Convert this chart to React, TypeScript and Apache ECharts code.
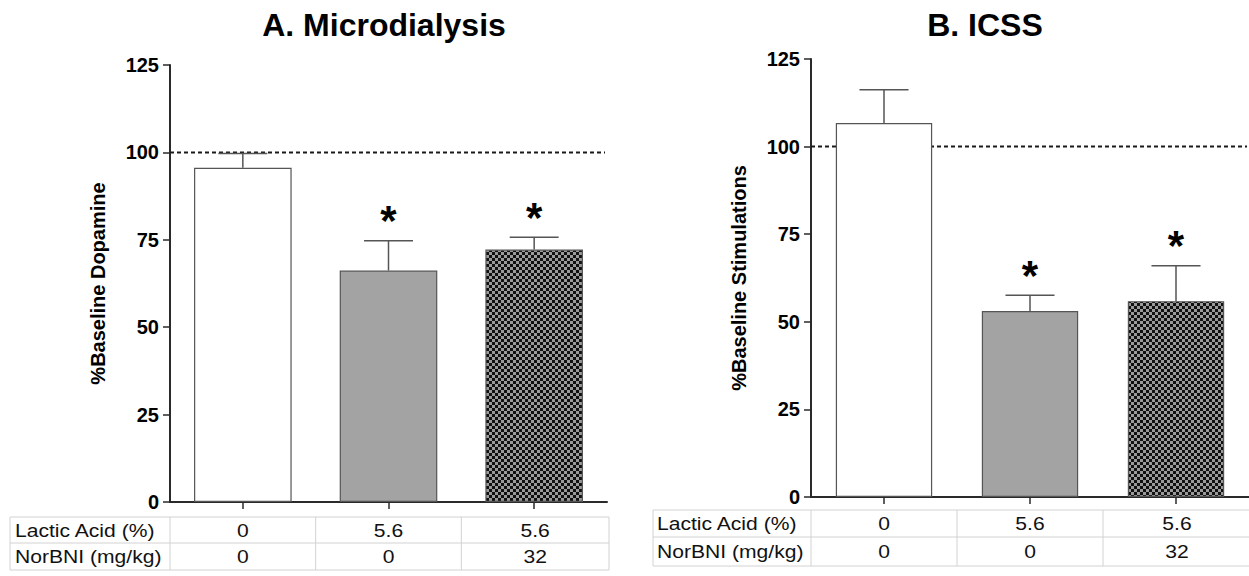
import React, { useEffect, useRef } from "react";
import * as echarts from "echarts";

// ---- data ----
const categories = ["LA 0 / NorBNI 0", "LA 5.6 / NorBNI 0", "LA 5.6 / NorBNI 32"];
const dopamineMeans = [95.6, 66.2, 72.2];
const dopamineErrors = [4.1, 8.5, 3.5];
const dopamineSignificant = [0, 1, 1];
const icssMeans = [106.7, 53.1, 55.9];
const icssErrors = [9.5, 4.5, 10.1];
const icssSignificant = [0, 1, 1];
const yMin = 0;
const yMax = 125;
const yStep = 25;
const baselineValue = 100;
const panelTitles = ["A. Microdialysis", "B. ICSS"];
const yAxisNames = ["%Baseline Dopamine", "%Baseline Stimulations"];
const tableRowLabels = ["Lactic Acid (%)", "NorBNI (mg/kg)"];
const lacticAcidRow = ["0", "5.6", "5.6"];
const norBniRow = ["0", "0", "32"];

// ---- layout ----
const FONT = "'Liberation Sans', Arial, sans-serif";
const GRIDS = [
  { left: 170, top: 65, width: 437, height: 437 },
  { left: 811, top: 59, width: 438, height: 438 },
];
const TABLES = [
  { left: 10, rows: [517, 543, 570], textX: 15 },
  { left: 653, rows: [510, 537, 566], textX: 657 },
];
const TITLE_POS = [
  { x: 384, y: 25 },
  { x: 985, y: 25 },
];

function makeChecker(): HTMLCanvasElement {
  const c = document.createElement("canvas");
  c.width = 6;
  c.height = 6;
  const ctx = c.getContext("2d")!;
  ctx.fillStyle = "#9a9a9a";
  ctx.fillRect(0, 0, 6, 6);
  ctx.fillStyle = "#111111";
  ctx.fillRect(0, 0, 3, 3);
  ctx.fillRect(3, 3, 3, 3);
  return c;
}

export default function App() {
  const ref = useRef<HTMLDivElement>(null);

  useEffect(() => {
    if (!ref.current) return;
    const chart = echarts.init(ref.current, null, { renderer: "svg" });
    const checker = makeChecker();
    const pattern: any = { image: checker, repeat: "repeat", imageWidth: 6, imageHeight: 6 };
    const fills = ["#ffffff", "#a3a3a3", pattern];

    const means = [dopamineMeans, icssMeans];
    const errs = [dopamineErrors, icssErrors];
    const sigs = [dopamineSignificant, icssSignificant];

    const series: any[] = [];
    [0, 1].forEach((p) => {
      series.push({
        type: "custom",
        xAxisIndex: p,
        yAxisIndex: p,
        z: 1,
        silent: true,
        data: [[0, baselineValue]],
        encode: { x: 0, y: 1 },
        renderItem: (params: any, api: any) => {
          const cs = params.coordSys;
          const y = api.coord([0, baselineValue])[1];
          return {
            type: "line",
            shape: { x1: cs.x, y1: y, x2: cs.x + cs.width - 2, y2: y },
            style: { stroke: "#1a1a1a", lineWidth: 2, lineDash: [4, 3] },
          };
        },
      });
      series.push({
        type: "bar",
        xAxisIndex: p,
        yAxisIndex: p,
        z: 2,
        barWidth: p === 0 ? "67%" : "66%",
        data: means[p].map((v, i) => ({
          value: v,
          itemStyle: { color: fills[i], borderColor: "#555", borderWidth: 1.2 },
        })),
      });
      series.push({
        type: "custom",
        xAxisIndex: p,
        yAxisIndex: p,
        z: 3,
        silent: true,
        data: means[p].map((v, i) => [i, v, errs[p][i], sigs[p][i]]),
        encode: { x: 0, y: 1 },
        renderItem: (params: any, api: any) => {
          const i = api.value(0);
          const m = api.value(1);
          const e = api.value(2);
          const sig = api.value(3);
          const base = api.coord([i, m]);
          const top = api.coord([i, m + e]);
          const half = api.size([1, 0])[0] * 0.168;
          const children: any[] = [
            {
              type: "line",
              shape: { x1: base[0], y1: base[1], x2: top[0], y2: top[1] },
              style: { stroke: "#555", lineWidth: 1.5 },
            },
            {
              type: "line",
              shape: { x1: top[0] - half, y1: top[1], x2: top[0] + half, y2: top[1] },
              style: { stroke: "#555", lineWidth: 1.5 },
            },
          ];
          if (sig) {
            children.push({
              type: "text",
              style: {
                text: "*",
                x: top[0],
                y: top[1] - 20,
                align: "center",
                verticalAlign: "middle",
                fontSize: 42,
                fontWeight: "bold",
                fontFamily: FONT,
                fill: "#000",
              },
            });
          }
          return { type: "group", children };
        },
      });
    });

    const graphic: any[] = [];
    [0, 1].forEach((p) => {
      graphic.push({
        type: "text",
        x: TITLE_POS[p].x,
        y: TITLE_POS[p].y,
        style: {
          text: panelTitles[p],
          align: "center",
          verticalAlign: "middle",
          fontSize: 32,
          fontWeight: "bold",
          fontFamily: FONT,
          fill: "#000",
        },
      });
      const t = TABLES[p];
      const g = GRIDS[p];
      const right = g.left + g.width + 2;
      const cols = [t.left, g.left, g.left + g.width / 3, g.left + (2 * g.width) / 3, right];
      const lineStyle = { stroke: "#d2d2d2", lineWidth: 1 };
      t.rows.forEach((y) => {
        graphic.push({ type: "line", shape: { x1: t.left, y1: y, x2: right, y2: y }, style: lineStyle });
      });
      cols.forEach((x) => {
        graphic.push({ type: "line", shape: { x1: x, y1: t.rows[0], x2: x, y2: t.rows[2] }, style: lineStyle });
      });
      const rowsVals = [lacticAcidRow, norBniRow];
      [0, 1].forEach((r) => {
        const cy = (t.rows[r] + t.rows[r + 1]) / 2;
        graphic.push({
          type: "text",
          x: t.textX,
          y: cy,
          scaleX: 1.14,
          style: {
            text: tableRowLabels[r],
            align: "left",
            verticalAlign: "middle",
            fontSize: 18.5,
            fontFamily: FONT,
            fill: "#111",
          },
        });
        rowsVals[r].forEach((val, c) => {
          graphic.push({
            type: "text",
            x: (cols[c + 1] + cols[c + 2]) / 2,
            y: cy,
            scaleX: 1.14,
            style: {
              text: val,
              align: "center",
              verticalAlign: "middle",
              fontSize: 18.5,
              fontFamily: FONT,
              fill: "#111",
            },
          });
        });
      });
    });

    const axisColor = "#2a2a2a";
    chart.setOption({
      animation: false,
      backgroundColor: "#ffffff",
      textStyle: { fontFamily: FONT },
      grid: GRIDS.map((g) => ({ ...g, containLabel: false })),
      xAxis: [0, 1].map((p) => ({
        type: "category",
        gridIndex: p,
        data: categories,
        axisLine: { show: true, lineStyle: { color: axisColor, width: 2 } },
        axisTick: { show: true, alignWithLabel: true, length: 7, lineStyle: { color: axisColor, width: 1.5 } },
        axisLabel: { show: false },
        splitLine: { show: false },
      })),
      yAxis: [0, 1].map((p) => ({
        type: "value",
        gridIndex: p,
        min: yMin,
        max: yMax,
        interval: yStep,
        name: yAxisNames[p],
        nameLocation: "middle",
        nameGap: 62,
        nameTextStyle: { fontSize: 20, fontWeight: "bold", color: "#000", fontFamily: FONT },
        axisLine: { show: true, lineStyle: { color: axisColor, width: 2 } },
        axisTick: { show: true, length: 7, lineStyle: { color: axisColor, width: 1.5 } },
        axisLabel: { fontSize: 20, fontWeight: "bold", color: "#000", margin: 11, fontFamily: FONT },
        splitLine: { show: false },
      })),
      series,
      graphic,
    });

    return () => chart.dispose();
  }, []);

  return (
    <div
      ref={ref}
      style={{ position: "absolute", left: 0, top: 0, width: 1249, height: 576, background: "#fff" }}
    />
  );
}
